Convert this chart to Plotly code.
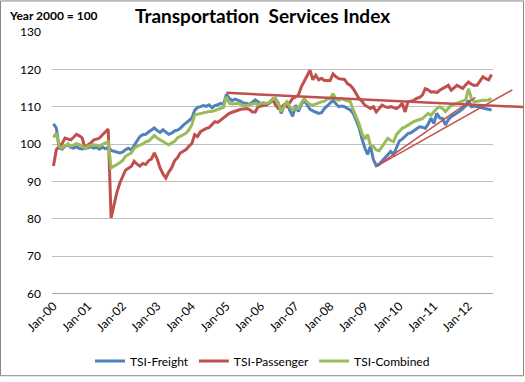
import pandas as pd
import plotly.graph_objects as go

# ---------------- data ----------------
months = list(pd.date_range("2000-01-01", periods=153, freq="MS").strftime("%b-%y"))

tick_labels = ["Jan-00", "Jan-01", "Jan-02", "Jan-03", "Jan-04", "Jan-05", "Jan-06",
               "Jan-07", "Jan-08", "Jan-09", "Jan-10", "Jan-11", "Jan-12"]

freight = [
    105.4, 104.3, 99.0, 98.6, 99.4, 99.8, 99.1, 98.9, 99.3, 98.8, 98.7, 99.0,      # 2000
    99.0, 99.3, 98.9, 99.1, 98.6, 99.2, 98.7, 99.1, 98.3, 98.0, 97.8, 97.6,        # 2001
    97.8, 98.5, 98.9, 98.4, 99.6, 100.8, 102.0, 102.5, 102.6, 103.2, 103.8, 104.3, # 2002
    103.6, 103.1, 103.8, 103.3, 102.6, 102.9, 103.5, 103.7, 104.2, 105.0, 105.6, 106.2,  # 2003
    106.9, 109.0, 109.8, 110.0, 110.3, 110.1, 110.5, 109.7, 110.3, 110.5, 110.9, 110.6,  # 2004
    113.3, 112.2, 111.6, 112.0, 111.8, 111.4, 110.9, 110.9, 110.6, 111.1, 111.8, 111.3,  # 2005
    110.8, 111.0, 110.7, 111.0, 111.5, 112.2, 111.0, 108.2, 110.2, 111.3, 109.0, 107.4,  # 2006
    110.4, 108.7, 110.6, 111.7, 110.5, 109.3, 108.9, 108.5, 108.2, 108.4, 109.5, 110.2,  # 2007
    111.0, 111.7, 110.8, 110.0, 110.2, 110.0, 109.5, 109.1, 108.2, 106.5, 104.5, 101.5,  # 2008
    99.0, 97.2, 99.5, 95.8, 94.2, 94.6, 95.5, 96.2, 97.0, 98.0, 97.2, 99.2,              # 2009
    100.8, 101.3, 102.0, 102.8, 103.0, 103.6, 104.0, 104.6, 104.5, 104.2, 105.3, 106.9,  # 2010
    105.5, 108.2, 107.0, 106.8, 105.1, 106.5, 107.3, 107.8, 108.2, 108.8, 109.5, 110.2,  # 2011
    111.7, 110.0, 110.2, 110.0, 110.0, 109.8, 109.5, 109.3, 109.1,                      # 2012
]

passenger = [
    94.1, 98.5, 99.3, 100.1, 101.6, 101.4, 101.1, 101.8, 102.6, 102.2, 101.6, 98.6,     # 2000
    99.8, 100.3, 101.1, 101.3, 101.6, 102.5, 103.2, 104.0, 80.2, 84.0, 87.0, 89.5,      # 2001
    91.5, 93.0, 93.5, 94.0, 95.4, 94.6, 94.1, 94.8, 94.5, 95.5, 96.0, 97.6,             # 2002
    96.0, 93.6, 92.0, 90.9, 92.5, 93.6, 95.5, 96.3, 97.6, 98.0, 98.5, 99.4,             # 2003
    100.1, 102.5, 102.0, 103.3, 103.8, 104.2, 104.4, 105.1, 106.0, 105.8, 106.4, 107.0, # 2004
    107.7, 108.2, 108.5, 108.8, 109.1, 109.3, 109.4, 109.5, 109.2, 108.6, 108.6, 110.0, # 2005
    110.2, 110.3, 110.5, 111.2, 112.0, 110.5, 109.5, 109.8, 110.5, 110.0, 111.0, 112.2, # 2006
    112.6, 113.1, 115.3, 117.0, 118.3, 119.8, 117.2, 118.4, 117.2, 117.6, 117.0, 117.0, # 2007
    117.0, 118.8, 118.0, 117.5, 117.5, 117.3, 116.2, 115.7, 114.8, 113.5, 112.2, 111.5, # 2008
    110.4, 110.0, 109.5, 110.0, 108.6, 109.5, 110.4, 110.0, 109.8, 110.0, 109.8, 109.5, # 2009
    110.0, 110.9, 108.6, 111.3, 111.5, 111.7, 112.2, 112.5, 113.1, 114.8, 114.5, 113.9, # 2010
    114.0, 113.8, 114.4, 114.8, 115.3, 115.7, 114.4, 115.0, 115.7, 115.3, 114.9, 115.8, # 2011
    116.6, 116.0, 115.7, 115.8, 117.0, 118.0, 117.5, 117.2, 118.6,                      # 2012
]

combined = [
    101.8, 102.9, 99.4, 98.9, 99.5, 100.1, 99.4, 99.8, 100.1, 99.8, 99.5, 98.8,          # 2000
    99.4, 99.6, 99.8, 99.7, 99.4, 99.9, 100.2, 100.6, 93.6, 94.0, 94.5, 95.0,           # 2001
    95.6, 96.7, 97.2, 97.6, 98.8, 99.4, 99.7, 100.0, 100.6, 100.8, 101.5, 102.3,        # 2002
    101.6, 101.1, 100.5, 100.2, 99.8, 100.2, 100.7, 101.6, 102.0, 102.5, 102.9, 103.8,  # 2003
    105.1, 107.8, 108.0, 108.2, 108.5, 108.6, 108.7, 108.7, 109.0, 109.3, 109.5, 109.8, # 2004
    112.6, 110.9, 110.7, 110.9, 110.9, 110.6, 110.3, 110.3, 110.5, 110.6, 110.9, 110.5, # 2005
    111.0, 110.9, 110.9, 111.2, 112.0, 112.2, 110.8, 108.7, 110.0, 111.3, 110.0, 109.1, # 2006
    109.8, 109.5, 111.0, 112.2, 111.2, 110.6, 110.4, 110.8, 111.0, 111.3, 111.5, 112.0, # 2007
    112.2, 113.5, 112.0, 111.7, 112.2, 111.8, 111.5, 111.3, 109.2, 107.5, 105.5, 103.0, # 2008
    101.3, 102.5, 99.6, 99.4, 98.4, 98.2, 99.2, 100.5, 101.5, 101.0, 100.6, 102.5,      # 2009
    103.4, 104.2, 104.6, 105.1, 105.5, 106.0, 106.3, 106.5, 106.8, 107.5, 108.2, 107.7, # 2010
    108.6, 109.5, 110.0, 109.5, 108.7, 109.6, 110.4, 110.6, 110.9, 111.1, 111.3, 111.8, # 2011
    114.8, 112.2, 111.3, 111.5, 111.7, 111.7, 111.7, 111.8, 112.2,                      # 2012
]

# hand-drawn trend lines (month index, value)
trend_flat_x = [60.0, 163.0]
trend_flat_y = [113.7, 109.9]
trend_up1_x = [112.2, 146.4]
trend_up1_y = [94.1, 112.5]
trend_up2_x = [112.2, 159.2]
trend_up2_y = [94.1, 114.5]

series_names = ["TSI-Freight", "TSI-Passenger", "TSI-Combined"]
series_colors = ["#4F81BD", "#C0504D", "#9BBB59"]

# ---------------- figure ----------------
FONT = "Lato, Carlito, Calibri, 'Liberation Sans', sans-serif"
W, H = 525, 382
ML, MR, MT, MB = 52, 32, 32, 85

fig = go.Figure()
for name, vals, col in zip(series_names, [freight, passenger, combined], series_colors):
    fig.add_trace(go.Scatter(x=months, y=vals, mode="lines", name=name,
                             line=dict(color=col, width=3)))

x_min, x_max = -0.5, len(months) - 0.5


def to_paper(ix):
    return (ix - x_min) / (x_max - x_min)


for tx, ty, w in [(trend_flat_x, trend_flat_y, 2.5),
                  (trend_up1_x, trend_up1_y, 1.5),
                  (trend_up2_x, trend_up2_y, 1.5)]:
    fig.add_shape(type="line", xref="paper", yref="y",
                  x0=to_paper(tx[0]), x1=to_paper(tx[1]), y0=ty[0], y1=ty[1],
                  line=dict(color="#C0504D", width=w), layer="above")

# outer chart border
pw = W - ML - MR
ph = H - MT - MB
fig.add_shape(type="rect", xref="paper", yref="paper",
              x0=(0.5 - ML) / pw, x1=(W - 1.5 - ML) / pw,
              y0=-(H - 1.5 - MT - ph) / ph, y1=(MT - 0.5) / ph + 1,
              line=dict(color="#868686", width=1), fillcolor="rgba(0,0,0,0)")

fig.add_annotation(text="<b>Year 2000 = 100</b>", xref="paper", yref="paper",
                   x=(7 - ML) / pw, y=1 + (MT - 15) / ph, xanchor="left", yanchor="middle",
                   showarrow=False, font=dict(family=FONT, size=12, color="#000000"))

fig.update_layout(
    width=W, height=H,
    margin=dict(l=ML, r=MR, t=MT, b=MB),
    paper_bgcolor="white", plot_bgcolor="white",
    font=dict(family=FONT, size=12, color="#000000"),
    title=dict(text="<b>Transportation  Services Index</b>", x=0.5, xref="container",
               xanchor="center", y=1 - 16 / H, yref="container", yanchor="middle",
               font=dict(family=FONT, size=19, color="#000000")),
    showlegend=True,
    legend=dict(orientation="h", x=0.5, xref="container", xanchor="center",
                y=(H - 361) / H, yref="container", yanchor="middle",
                font=dict(family=FONT, size=12), itemwidth=30, tracegroupgap=0,
                bgcolor="rgba(0,0,0,0)"),
)

fig.update_xaxes(type="category", range=[x_min, x_max],
                 tickmode="array", tickvals=tick_labels, ticktext=tick_labels,
                 tickangle=-45, showgrid=False, zeroline=False,
                 showline=True, linecolor="#A6A6A6", linewidth=1,
                 ticks="", tickfont=dict(family=FONT, size=12, color="#000000"))
fig.update_yaxes(range=[60, 130], dtick=10, tick0=60, showgrid=True,
                 gridcolor="#BFBFBF", gridwidth=1, zeroline=False, showline=False,
                 ticks="", ticklabelstandoff=10,
                 tickfont=dict(family=FONT, size=12, color="#000000"))

fig.write_html("out.html", config={"displayModeBar": False},
               post_script="document.body.style.margin='0';document.body.style.overflow='hidden';")
